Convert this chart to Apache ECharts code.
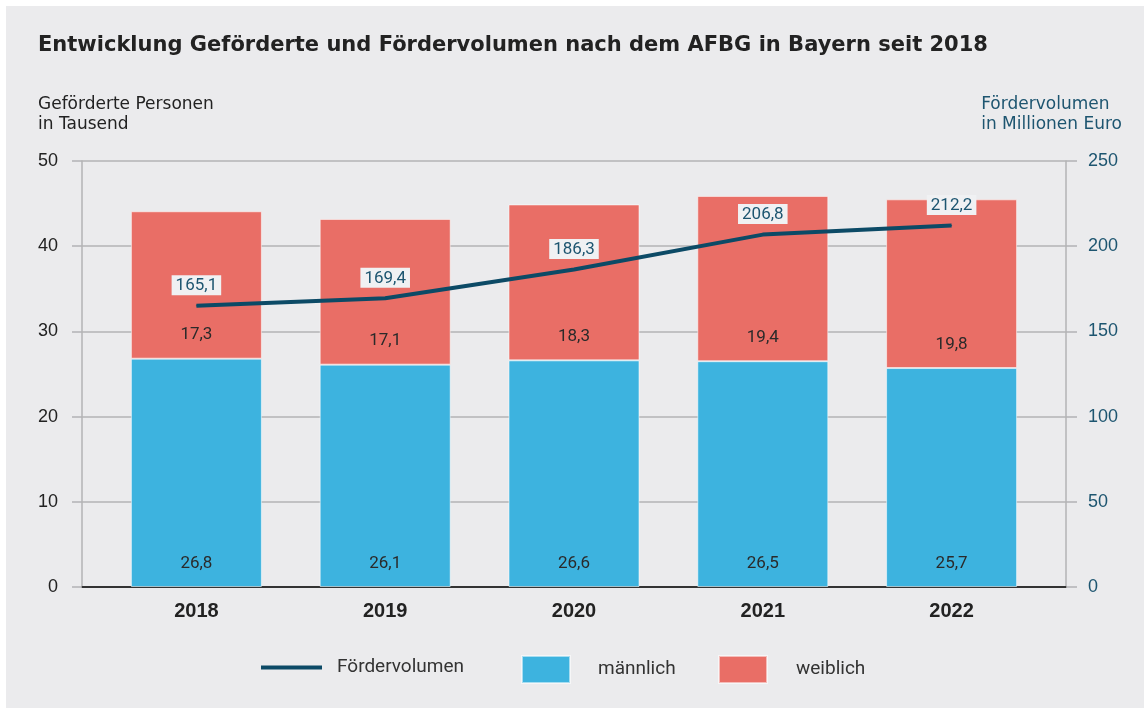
<!DOCTYPE html>
<html>
<head>
<meta charset="utf-8">
<script src="https://cdn.jsdelivr.net/npm/echarts@6/dist/echarts.min.js"></script>
<style>
html,body{margin:0;padding:0;background:#fff;}
#c{width:1144px;height:708px;}
</style>
</head>
<body>
<div id="c"></div>
<script>
const years = ['2018', '2019', '2020', '2021', '2022'];
const maennlich = [26.8, 26.1, 26.6, 26.5, 25.7];
const weiblich = [17.3, 17.1, 18.3, 19.4, 19.8];
const foerdervolumen = [165.1, 169.4, 186.3, 206.8, 212.2];

const fmt = v => Number(v).toFixed(1).replace('.', ',');

const chart = echarts.init(document.getElementById('c'), null, {renderer: 'canvas'});
const GRAY = '#b3b3b5';
const TEAL = '#1d5570';
const LINE = '#0c4a66';
const BLUE = '#3db3df';
const RED = '#e96e66';

chart.setOption({
  backgroundColor: '#ebebed',
  animation: false,
  title: {
    text: 'Entwicklung Geförderte und Fördervolumen nach dem AFBG in Bayern seit 2018',
    left: 38, top: 35, padding: 0,
    textStyle: {fontFamily: 'DejaVu Sans', fontWeight: 'bold', fontSize: 21, color: '#222'}
  },
  graphic: [
    {type: 'rect', left: 0, top: 0, shape: {width: 1144, height: 6}, style: {fill: '#fff'}, silent: true},
    {type: 'rect', left: 0, top: 0, shape: {width: 6, height: 708}, style: {fill: '#fff'}, silent: true},
    {type: 'text', left: 38, top: 95, style: {text: 'Geförderte Personen\nin Tausend', font: '17px "DejaVu Sans"', fill: '#222', lineHeight: 20}},
    {type: 'text', right: 22, top: 95, style: {text: 'Fördervolumen\nin Millionen Euro', font: '17px "DejaVu Sans"', fill: TEAL, lineHeight: 20, align: 'right'}}
  ],
  legend: [
    {data: [{name: 'Fördervolumen', icon: 'path://M0,0H61V4H0Z'}], left: 261, top: 658, padding: 0,
     itemWidth: 61, itemHeight: 4,
     textStyle: {fontFamily: 'Roboto', fontSize: 19, color: '#333', padding: [0, 0, 0, 10]}},
    {data: [{name: 'männlich', icon: 'rect'}], left: 521, top: 655, padding: 0, itemWidth: 48, itemHeight: 27,
     textStyle: {fontFamily: 'Roboto', fontSize: 19, color: '#333', padding: [0, 0, 0, 23]}},
    {data: [{name: 'weiblich', icon: 'rect'}], left: 718, top: 655, padding: 0, itemWidth: 48, itemHeight: 27,
     textStyle: {fontFamily: 'Roboto', fontSize: 19, color: '#333', padding: [0, 0, 0, 24]}}
  ],
  grid: [
    {left: 82, right: 78, top: 161, bottom: 121, containLabel: false},
    {left: 102, right: 98, top: 161, bottom: 121, containLabel: false}
  ],
  xAxis: [
    {
      gridIndex: 0, type: 'value', min: 0, max: 1,
      axisLine: {show: true, onZero: false, lineStyle: {color: '#333', width: 2}},
      axisTick: {show: false}, splitLine: {show: false}, axisLabel: {show: false}
    },
    {
      gridIndex: 1, type: 'category', data: years,
      axisLine: {show: false}, axisTick: {show: false}, splitLine: {show: false},
      axisLabel: {margin: 14, fontFamily: 'Liberation Sans', fontWeight: 'bold', fontSize: 20, color: '#222'}
    }
  ],
  yAxis: [
    {
      gridIndex: 0, type: 'value', min: 0, max: 50, interval: 10, position: 'left',
      axisLine: {show: true, onZero: false, lineStyle: {color: GRAY, width: 1.5}},
      axisTick: {show: true, length: 10, lineStyle: {color: GRAY, width: 1.5}},
      splitLine: {show: true, lineStyle: {color: GRAY, width: 1.5}},
      axisLabel: {margin: 24, fontFamily: 'Liberation Sans', fontSize: 18, color: '#222'}
    },
    {
      gridIndex: 0, type: 'value', min: 0, max: 250, interval: 50, position: 'right',
      axisLine: {show: true, onZero: false, lineStyle: {color: GRAY, width: 1.5}},
      axisTick: {show: true, length: 11, lineStyle: {color: GRAY, width: 1.5}},
      splitLine: {show: false},
      axisLabel: {margin: 22, fontFamily: 'Liberation Sans', fontSize: 18, color: TEAL}
    },
    {gridIndex: 1, type: 'value', min: 0, max: 50, show: false},
    {gridIndex: 1, type: 'value', min: 0, max: 250, show: false}
  ],
  series: [
    {
      name: 'männlich', type: 'bar', stack: 'p', barWidth: 131,
      xAxisIndex: 1, yAxisIndex: 2,
      data: maennlich,
      itemStyle: {color: BLUE, borderColor: 'rgba(255,255,255,0.55)', borderWidth: 1},
      label: {show: true, position: 'insideBottom', distance: 15, formatter: p => fmt(p.value),
              fontFamily: 'Roboto', fontSize: 17, color: '#2a2a2a'}
    },
    {
      name: 'weiblich', type: 'bar', stack: 'p', barWidth: 131,
      xAxisIndex: 1, yAxisIndex: 2,
      data: weiblich,
      itemStyle: {color: RED, borderColor: 'rgba(255,255,255,0.55)', borderWidth: 1},
      label: {show: true, position: 'insideBottom', distance: 15, formatter: p => fmt(p.value),
              fontFamily: 'Roboto', fontSize: 17, color: '#2a2a2a'}
    },
    {
      name: 'Fördervolumen', type: 'line', z: 5,
      xAxisIndex: 1, yAxisIndex: 3,
      data: foerdervolumen,
      symbol: 'circle', symbolSize: 1, showSymbol: true,
      lineStyle: {color: LINE, width: 4},
      itemStyle: {color: LINE},
      label: {show: true, position: 'top', distance: 10, formatter: p => fmt(p.value),
              fontFamily: 'Roboto', fontSize: 17, color: TEAL,
              backgroundColor: '#f0f1f3', padding: [2, 4, 1, 4]}
    }
  ]
});
</script>
</body>
</html>
